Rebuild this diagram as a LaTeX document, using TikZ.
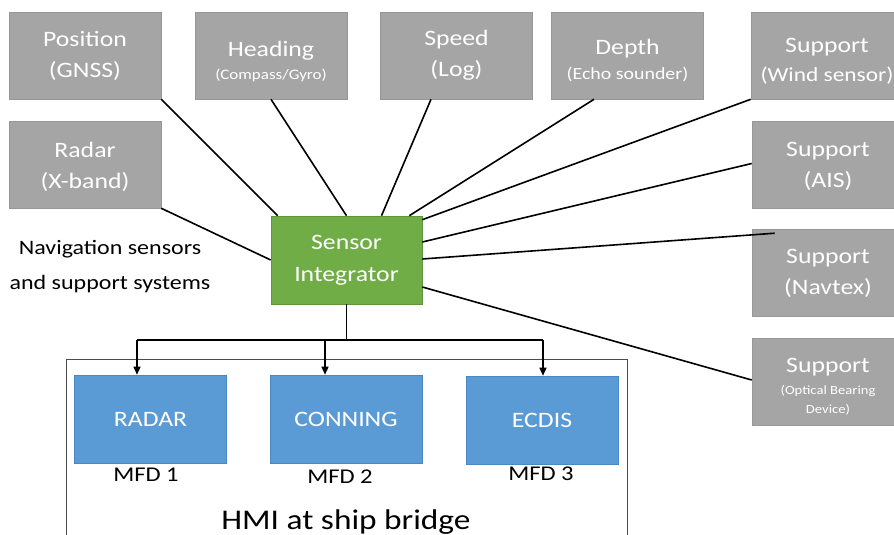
\documentclass[tikz,border=0pt]{standalone}
\usepackage{fontspec}
\setmainfont{Carlito}[FakeStretch=1.17]
\usetikzlibrary{arrows.meta,calc}
\definecolor{boxgray}{HTML}{A5A5A5}
\definecolor{edgegray}{HTML}{979797}
\definecolor{sigreen}{HTML}{70AD47}
\definecolor{mfdblue}{HTML}{5B9BD5}
\definecolor{mfdedge}{HTML}{4A88C2}
\begin{document}
\begin{tikzpicture}[x=1pt,y=-1pt,
  graybox/.style={rectangle,fill=boxgray,draw=edgegray,line width=0.6pt,minimum width=152pt,minimum height=87pt,inner sep=0pt,text=white,align=center,font=\fontsize{22}{31}\selectfont},
  sibox/.style={rectangle,fill=sigreen,draw=sigreen!85!black,line width=0.6pt,minimum width=151pt,minimum height=88pt,inner sep=0pt,text=white,align=center,font=\fontsize{22}{32}\selectfont},
  mfdbox/.style={rectangle,fill=mfdblue,draw=mfdedge,line width=0.6pt,minimum width=152pt,minimum height=88pt,inner sep=0pt,text=white,font=\fontsize{22}{26}\selectfont},
  lbl/.style={inner sep=0pt,font=\fontsize{21}{24}\selectfont},
  conn/.style={line width=1.6pt,black},
  arr/.style={line width=1.4pt,black,-{Triangle[length=8pt,width=7pt]}}
]
\useasboundingbox (0,0) rectangle (894,535);
\fill[white] (0,0) rectangle (894,535);

% HMI frame
\node[draw=black!70,line width=1pt,minimum width=561pt,minimum height=200pt,inner sep=0pt,anchor=north west] (hmi) at (66,359) {};
\node[inner sep=0pt,font=\fontsize{28.5}{32}\selectfont] (hmitext) at (346,522) {HMI at ship bridge};

% sensor boxes
\node[graybox] (pos) at (85,55.5) {Position\\(GNSS)};
\node[graybox] (head) at (271,55.5) {\rule{0pt}{27pt}Heading\\[-8pt]\fontsize{14.5}{17}\selectfont (Compass/Gyro)};
\node[graybox] (speed) at (456.5,55.5) {Speed\\(Log)};
\node[graybox] (depth) at (627.5,55.5) {\rule{0pt}{26pt}Depth\\[-6pt]\fontsize{17}{20}\selectfont (Echo sounder)};
\node[graybox] (wind) at (827,55.5) {\rule{0pt}{26pt}Support\\[-2pt]\fontsize{20}{24}\selectfont (Wind sensor)};
\node[graybox] (radar) at (85,164.5) {\rule{0pt}{21pt}Radar\\(X-band)};
\node[graybox] (ais) at (828,164.5) {\rule{0pt}{19pt}Support\\(AIS)};
\node[graybox] (nav) at (828,273) {Support\\(Navtex)};
\node[graybox] (opt) at (828,382) {\rule{0pt}{24pt}Support\\[-9pt]\fontsize{12.5}{15}\selectfont (Optical Bearing\\[-12pt]\fontsize{12.5}{15}\selectfont Device)};

% integrator
\node[sibox] (si) at (346.5,260) {Sensor\\Integrator};

% side label
\node[lbl,align=center,font=\fontsize{20.5}{35}\selectfont] (navlbl) at (110,266.5) {Navigation sensors\\and support systems};

% MFDs
\node[mfdbox] (mfd1) at (150.5,419) {RADAR};
\node[mfdbox] (mfd2) at (346,419) {CONNING};
\node[mfdbox] (mfd3) at (542,420) {ECDIS};
\node[lbl] (m1) at (146,475) {MFD 1};
\node[lbl] (m2) at (340,477) {MFD 2};
\node[lbl] (m3) at (541,474) {MFD 3};

% connectors to integrator
\draw[conn] (pos.south east) -- ($(si.north west)+(7,0)$);
\draw[conn] (head.south) -- (si.north);
\draw[conn] ($(speed.south)+(-25.5,0)$) -- ($(si.north)+(35,0)$);
\draw[conn] ($(depth.south)+(-33.5,0)$) -- ($(si.north east)+(-13,0)$);
\draw[conn] (wind.south west) -- ($(si.north east)+(0,4)$);
\draw[conn] ($(ais.west)+(0,-1)$) -- ($(si.east)+(0,-18)$);
\draw[conn] ($(nav.north west)+(23,4)$) -- ($(si.east)+(0,-1)$);
\draw[conn] ($(si.east)+(0,27)$) -- ($(opt.west)+(0,-2)$);
\draw[conn] (radar.south east) -- (si.west);

% bus to MFDs
\coordinate (bus) at (346.5,340);
\coordinate (b1) at (137,340);
\coordinate (b2) at (325,340);
\coordinate (b3) at (543,340);
\draw[conn,line width=1.4pt] (si.south) -- (bus);
\draw[conn,line width=1.4pt] (b1) -- (b3);
\draw[arr] (b1) -- (b1 |- mfd1.north);
\draw[arr] (b2) -- (b2 |- mfd2.north);
\draw[arr] (b3) -- (b3 |- mfd3.north);
\end{tikzpicture}
\end{document}
